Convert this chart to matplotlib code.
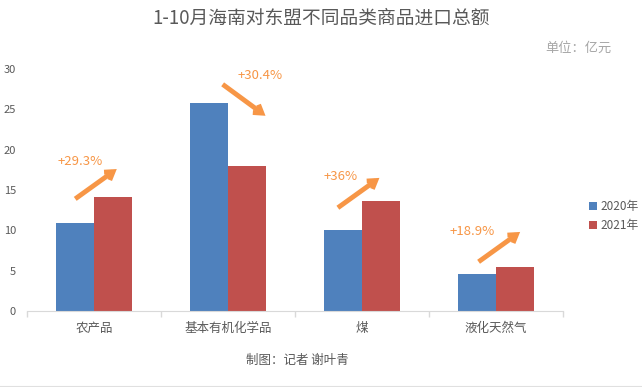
import numpy as np
import matplotlib
matplotlib.use("Agg")
from matplotlib import pyplot as plt

plt.rcParams['font.family'] = ['Noto Sans CJK SC', 'DejaVu Sans']

categories = ["农产品", "基本有机化学品", "煤", "液化天然气"]
values_2020 = [10.9, 25.8, 10.0, 4.6]
values_2021 = [14.1, 18.0, 13.6, 5.45]
series_names = ["2020年", "2021年"]
growth_labels = ["+29.3%", "+30.4%", "+36%", "+18.9%"]

# arrow tail/head and label position (data units, relative to category index)
arrow_layout = [
    ((-0.14, 13.9), (0.17, 17.6), (-0.10, 18.5)),
    ((-0.04, 28.1), (0.28, 24.2), (0.24, 29.2)),
    ((-0.18, 12.8), (0.13, 16.5), (-0.16, 16.7)),
    ((-0.13, 6.1), (0.18, 9.8), (-0.18, 9.9)),
]

blue = "#4F81BD"
red = "#C0504D"
orange = "#F79646"
gray = "#595959"

fig = plt.figure(figsize=(6.42, 3.87), dpi=100)
ax = fig.add_axes([27 / 642, 1 - 311 / 387, (563 - 27) / 642, (311 - 69) / 387])

x = np.arange(len(categories))
w = 0.284
b1 = ax.bar(x - w / 2, values_2020, w, color=blue, label=series_names[0])
b2 = ax.bar(x + w / 2, values_2021, w, color=red, label=series_names[1])

ax.set_xlim(-0.5, len(categories) - 0.5)
ax.set_ylim(0, 30)
ax.set_yticks(range(0, 31, 5))
ax.set_xticks(x)
ax.set_xticklabels(categories, fontsize=9, color=gray)
ax.set_xticks(np.arange(-0.5, len(categories), 1), minor=True)
ax.tick_params(axis='x', which='major', length=0, pad=8)
ax.tick_params(axis='x', which='minor', length=4, color="#D9D9D9", width=1)
ax.tick_params(axis='y', length=0, labelsize=8, labelcolor=gray, pad=8)

for s in ["top", "right", "left"]:
    ax.spines[s].set_visible(False)
ax.spines["bottom"].set_color("#D9D9D9")

for i, (tail, head, lab) in enumerate(arrow_layout):
    ax.annotate("", xy=(i + head[0], head[1]), xytext=(i + tail[0], tail[1]),
                arrowprops=dict(arrowstyle="->,head_length=0.55,head_width=0.35",
                                color=orange, lw=3.5, shrinkA=0, shrinkB=0,
                                joinstyle="miter", capstyle="butt"),
                annotation_clip=False)
    ax.text(i + lab[0], lab[1], growth_labels[i], color=orange, fontsize=9.5,
            ha="center", va="center")

fig.text(0.5, 1 - 18 / 387, "1-10月海南对东盟不同品类商品进口总额", ha="center",
         va="center", fontsize=13.5, color=gray, fontweight="light")
fig.text(612 / 642, 1 - 48 / 387, "单位：亿元", ha="right", va="center",
         fontsize=9.5, color="#A6A6A6")
fig.text(297 / 642, 1 - 360 / 387, "制图：记者 谢叶青", ha="center", va="center",
         fontsize=9, color=gray)

fig.legend(handles=[b1, b2], loc="center left", bbox_to_anchor=(578 / 642, 1 - 216 / 387),
           frameon=False, fontsize=8.5, handlelength=0.7, handleheight=0.7,
           handletextpad=0.3, labelspacing=0.5, labelcolor=gray)

# thin border line along the bottom edge
fig.add_artist(plt.Line2D([0, 1], [0.5 / 387, 0.5 / 387], transform=fig.transFigure,
                          color="#E0E0E0", lw=1.5))

fig.savefig("out.png", dpi=100)
